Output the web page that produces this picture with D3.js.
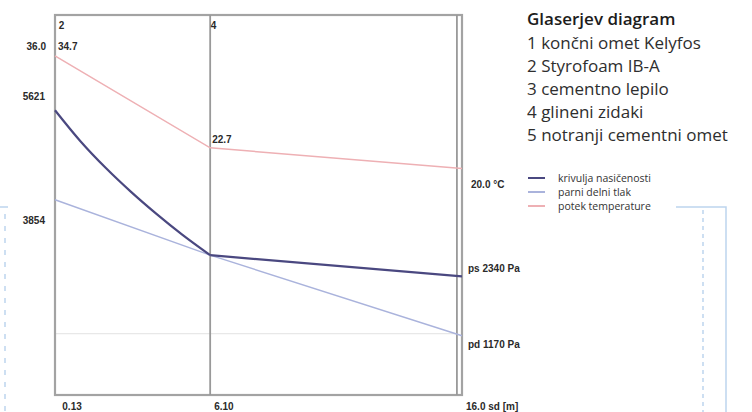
<!DOCTYPE html>
<html lang="sl">
<head>
   <meta charset="utf-8">
   <title>Glaserjev diagram</title>
   <style type="text/css">
       body{
           margin: 0;
           background: #fff;
       }
       .frame{
           fill: none;
           stroke: #a3a3a3;
           stroke-width: 2.2px;
       }
       .layer-line{
           stroke: #999;
           stroke-width: 1.8px;
       }
       .grid{
           stroke: #e2e2e2;
           stroke-width: 1px;
       }
       .val{
           font-family: "Liberation Sans", Arial, sans-serif;
           font-weight: bold;
           font-size: 10px;
           fill: #2a2a2a;
       }
       .legend-title{
           font-family: "Open Sans", sans-serif;
           font-weight: 600;
           font-size: 17px;
           fill: #1c1c1c;
       }
       .legend-item{
           font-family: "Open Sans", sans-serif;
           font-size: 17px;
           fill: #2e2e2e;
       }
       .key{
           font-family: "Open Sans", sans-serif;
           font-size: 10.5px;
           fill: #333;
       }
       .deco{
           fill: none;
           stroke: #bdd5ee;
           stroke-width: 1.5px;
       }
   </style>
</head>
<body>
<script src="https://d3js.org/d3.v7.min.js" charset="utf-8"></script>
<script>
    // sd positions [m] of the wall surfaces / layer boundaries
    var sdNodes = [0, 6.10, 16.0]
    var layerBounds = [6.10, 15.8]
    var layerNames = ['2', '4']
    var layerLabelAt = [0.13, 6.10]

    // temperature profile [°C]
    var tempValues = [34.7, 22.7, 20.0]

    // partial vapour pressure pd [Pa]
    var pdValues = [3854, 2760, 1170]

    // saturation pressure ps [Pa] in layer 2, then layer 4
    var psSd = [0, 1.0, 2.0, 3.0, 4.0, 5.0, 6.10]
    var psValues = [5621, 5010, 4480, 4005, 3570, 3165, 2760]
    var psEnd = 2340

    var xTicks = ['0.13', '6.10', '16.0 sd [m]']
    var xTickAt = [0.13, 6.10, 16.0]

    var legendTitle = 'Glaserjev diagram'
    var legendItems = ['1 končni omet Kelyfos', '2 Styrofoam IB-A', '3 cementno lepilo',
            '4 glineni zidaki', '5 notranji cementni omet']
    var keyLabels = ['krivulja nasičenosti', 'parni delni tlak', 'potek temperature']
    var keyColors = ['#4a4880', '#aab3dc', '#eeb0b4']

    var x = d3.scaleLinear().domain([0, 16]).range([55, 462])
    var yP = d3.scaleLinear().domain([0, 7500]).range([395, 15])
    var yT = d3.scaleLinear().domain([20, 36]).range([168.5, 45.9])

    var svg = d3.select('body')
        .append('svg')
            .attr('width', 752)
            .attr('height', 412)

    // decoration left over from the page (light blue brackets)
    svg.append('path').attr('class', 'deco')
        .attr('d', 'M0,207H8')
    svg.append('line').attr('class', 'deco')
        .attr('x1', 5).attr('x2', 5).attr('y1', 214).attr('y2', 412)
        .attr('stroke-dasharray', '5,7')
    svg.append('path').attr('class', 'deco')
        .attr('d', 'M676,207H726V412')
    svg.append('line').attr('class', 'deco')
        .attr('x1', 703).attr('x2', 703).attr('y1', 210).attr('y2', 412)
        .attr('stroke-dasharray', '4,4')

    // faint grid line at pd end value
    svg.append('line').attr('class', 'grid')
        .attr('x1', x(0)).attr('x2', x(15.8))
        .attr('y1', yP(1170) - 2).attr('y2', yP(1170) - 2)

    // frame and layer boundaries
    svg.append('rect').attr('class', 'frame')
        .attr('x', x(0)).attr('y', 15)
        .attr('width', x(16) - x(0)).attr('height', 380)

    svg.selectAll('.layer-line')
        .data(layerBounds)
        .enter().append('line')
            .attr('class', 'layer-line')
            .attr('x1', function(d) {return x(d);})
            .attr('x2', function(d) {return x(d);})
            .attr('y1', 15)
            .attr('y2', 395)

    svg.selectAll('.layer-name')
        .data(layerNames)
        .enter().append('text')
            .attr('class', 'val')
            .attr('x', function(d, i) {return x(layerLabelAt[i]) + 0.5;})
            .attr('y', 29)
            .text(function(d) {return d;})

    // lines
    var tLine = d3.line()
        .x(function(d, i) {return x(sdNodes[i]);})
        .y(function(d) {return yT(d);})
    svg.append('path')
        .attr('d', tLine(tempValues))
        .attr('fill', 'none')
        .attr('stroke', keyColors[2])
        .attr('stroke-width', 1.5)

    var pLine = d3.line()
        .x(function(d) {return x(d[0]);})
        .y(function(d) {return yP(d[1]);})
    svg.append('path')
        .attr('d', pLine(d3.zip(sdNodes, pdValues)))
        .attr('fill', 'none')
        .attr('stroke', keyColors[1])
        .attr('stroke-width', 1.4)

    // saturation curve: smooth through layer 2, straight through layer 4
    var psCurve = d3.line()
        .x(function(d) {return x(d[0]);})
        .y(function(d) {return yP(d[1]);})
        .curve(d3.curveMonotoneX)
    svg.append('path')
        .attr('d', psCurve(d3.zip(psSd, psValues)))
        .attr('fill', 'none')
        .attr('stroke', keyColors[0])
        .attr('stroke-width', 2.2)
    svg.append('path')
        .attr('d', pLine([[6.10, psValues[psValues.length - 1]], [16.0, psEnd]]))
        .attr('fill', 'none')
        .attr('stroke', keyColors[0])
        .attr('stroke-width', 2.2)

    // value labels
    svg.append('text').attr('class', 'val')
        .attr('x', x(0) - 9).attr('y', yT(36) + 4)
        .attr('text-anchor', 'end').text('36.0')
    svg.append('text').attr('class', 'val')
        .attr('x', x(0) + 3).attr('y', yT(36) + 4)
        .text(tempValues[0].toFixed(1))
    svg.append('text').attr('class', 'val')
        .attr('x', x(6.10) + 2).attr('y', yT(tempValues[1]) - 5)
        .text(tempValues[1].toFixed(1))
    svg.append('text').attr('class', 'val')
        .attr('x', x(16) + 9).attr('y', yT(tempValues[2]) + 19)
        .text(tempValues[2].toFixed(1) + ' °C')
    svg.append('text').attr('class', 'val')
        .attr('x', x(0) - 10).attr('y', yP(psValues[0]) - 10)
        .attr('text-anchor', 'end').text(psValues[0])
    svg.append('text').attr('class', 'val')
        .attr('x', x(0) - 10).attr('y', yP(pdValues[0]) + 24)
        .attr('text-anchor', 'end').text(pdValues[0])
    svg.append('text').attr('class', 'val')
        .attr('x', x(16) + 6).attr('y', yP(psEnd) - 4)
        .text('ps ' + psEnd + ' Pa')
    svg.append('text').attr('class', 'val')
        .attr('x', x(16) + 6).attr('y', yP(pdValues[2]) + 12)
        .text('pd ' + pdValues[2] + ' Pa')

    svg.selectAll('.xtick')
        .data(xTicks)
        .enter().append('text')
            .attr('class', 'val')
            .attr('x', function(d, i) {return x(xTickAt[i]) + 4;})
            .attr('y', 410)
            .text(function(d) {return d;})

    // legend
    svg.append('text').attr('class', 'legend-title')
        .attr('x', 527).attr('y', 25)
        .text(legendTitle)
    svg.selectAll('.legend-item')
        .data(legendItems)
        .enter().append('text')
            .attr('class', 'legend-item')
            .attr('x', 527)
            .attr('y', function(d, i) {return 49 + i * 23;})
            .text(function(d) {return d;})

    var key = svg.append('g').attr('transform', 'translate(528,178)')
    key.selectAll('line')
        .data(keyColors)
        .enter().append('line')
            .attr('x1', 0).attr('x2', 17)
            .attr('y1', function(d, i) {return i * 14;})
            .attr('y2', function(d, i) {return i * 14;})
            .attr('stroke', function(d) {return d;})
            .attr('stroke-width', 2)
    key.selectAll('text')
        .data(keyLabels)
        .enter().append('text')
            .attr('class', 'key')
            .attr('x', 30)
            .attr('y', function(d, i) {return i * 14 + 4;})
            .text(function(d) {return d;})
</script>
</body>
</html>
